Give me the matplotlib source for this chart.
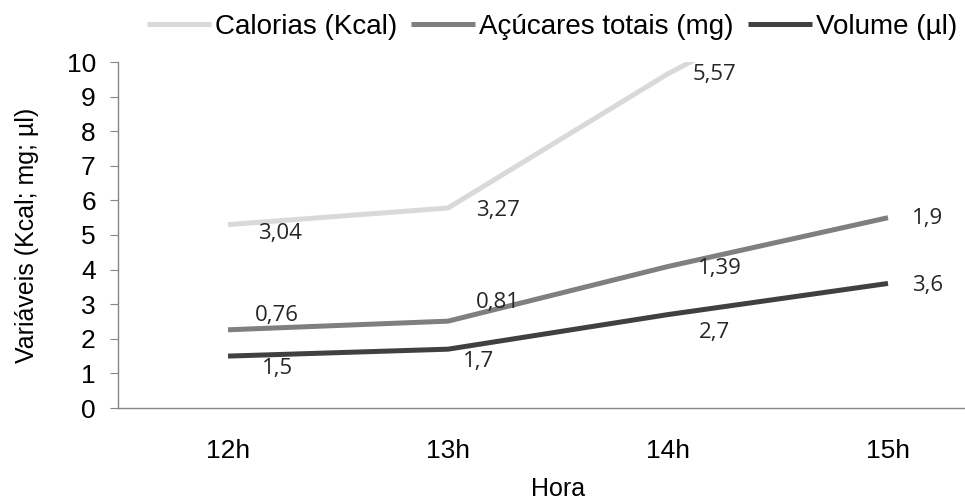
import matplotlib
matplotlib.use("Agg")
import matplotlib.pyplot as plt
import numpy as np

# Data (stacked line chart, values as shown in the labels)
horas = ["12h", "13h", "14h", "15h"]
volume = [1.5, 1.7, 2.7, 3.6]
acucares = [0.76, 0.81, 1.39, 1.9]
calorias = [3.04, 3.27, 5.57, 7.5]   # 15h value lies above the axis limit, not labelled

series_names = ["Calorias (Kcal)", "Açúcares totais (mg)", "Volume (µl)"]
series_colors = ["#d9d9d9", "#7f7f7f", "#404040"]

# label offsets in pixels (dx, dy with y up) for each point
off_vol = [(49, -12), (31, -12), (46, -18), (40, -2)]
off_acu = [(49, 14), (50, 19), (52, -2), (40, -1)]
off_cal = [(52, -9), (50, -2), (47, -1), None]

x = np.arange(len(horas))
stack_vol = np.array(volume)
stack_acu = stack_vol + np.array(acucares)
stack_cal = stack_acu + np.array(calorias)

fig = plt.figure(figsize=(9.65, 5.04), dpi=100)
ax = fig.add_axes([118 / 965, 96 / 504, 880 / 965, 346 / 504])

lines = []
for ys, col, name in zip([stack_cal, stack_acu, stack_vol], series_colors, series_names):
    ln, = ax.plot(x, ys, color=col, lw=3.6, solid_capstyle="butt", solid_joinstyle="round", label=name)
    lines.append(ln)

# data labels
for ys, vals, offs in [(stack_cal, calorias, off_cal), (stack_acu, acucares, off_acu), (stack_vol, volume, off_vol)]:
    for xi, yi, v, o in zip(x, ys, vals, offs):
        if o is None:
            continue
        ax.annotate(f"{v:g}".replace(".", ","), (xi, yi), xytext=o, textcoords="offset pixels",
                    ha="center", va="center", fontsize=16, family="Open Sans", color="#262626",
                    annotation_clip=False)

ax.set_xlim(-0.5, 3.5)
ax.set_ylim(0, 10)
ax.set_yticks(range(0, 11))
ax.set_xticks(x)
ax.set_xticklabels(horas)

for s in ["top", "right"]:
    ax.spines[s].set_visible(False)
for s in ["left", "bottom"]:
    ax.spines[s].set_color("#868686")
    ax.spines[s].set_linewidth(1.0)

ax.tick_params(axis="y", direction="out", length=6, color="#868686", labelsize=19, pad=10)
ax.tick_params(axis="x", length=0, labelsize=19, pad=22)
for lab in ax.get_xticklabels() + ax.get_yticklabels():
    lab.set_family("Liberation Sans")

ax.set_ylabel("Variáveis (Kcal; mg; µl)", fontsize=18, family="Liberation Sans", labelpad=20)
fig.text(558 / 965, 1 - 489 / 504, "Hora", ha="center", va="center", fontsize=18, family="Liberation Sans")

leg = fig.legend(handles=lines, loc="center", bbox_to_anchor=(552 / 965, 1 - 27 / 504), ncol=3,
                 frameon=False, prop={"family": "Liberation Sans", "size": 20},
                 handlelength=2.3, handletextpad=0.15, columnspacing=0.5, borderpad=0)
for h in leg.legend_handles:
    h.set_linewidth(3.6)

fig.savefig("out.png", dpi=100)
